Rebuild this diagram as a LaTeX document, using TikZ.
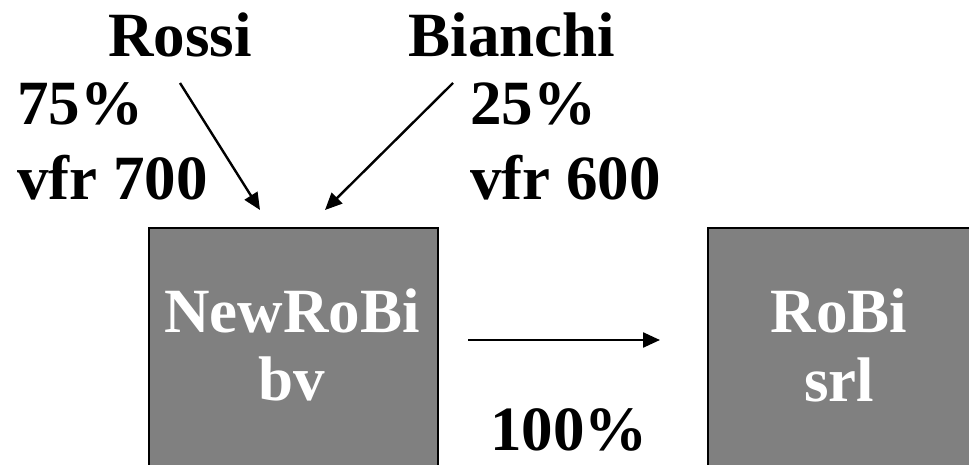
\documentclass[tikz,border=0pt]{standalone}
\usepackage{fontspec}
\setmainfont{Liberation Serif}
\usetikzlibrary{arrows.meta}
\begin{document}
\begin{tikzpicture}[x=1pt,y=-1pt,
  lbl/.style={font=\fontsize{63}{63}\selectfont\bfseries, inner sep=0pt},
  wlbl/.style={lbl, text=white, anchor=base},
  box/.style={draw=black, line width=2pt, fill=boxgray, inner sep=0pt, anchor=north west},
  arr/.style={line width=2.4pt, -{Triangle[length=17pt,width=15pt]}}]
\definecolor{boxgray}{HTML}{808080}
\useasboundingbox (0,0) rectangle (969,465);
\clip (0,0) rectangle (969,465);
\node[box, minimum width=289pt, minimum height=300pt] (nb) at (148,227) {};
\node[box, minimum width=300pt, minimum height=300pt] (rb) at (707,227) {};
\node[wlbl] (t1) at (292,332) {NewRoBi};
\node[wlbl] (t2) at (292,400) {bv};
\node[wlbl] (t3) at (839,332) {RoBi};
\node[wlbl] (t4) at (839,401) {srl};
\node[lbl, anchor=base] (rossi) at (180,57) {Rossi};
\node[lbl, anchor=base] (bianchi) at (512,57) {Bianchi};
\node[lbl, anchor=base west] (p75) at (17,125) {75\%};
\node[lbl, anchor=base west] (v700) at (17,200) {vfr 700};
\node[lbl, anchor=base west] (p25) at (470,125) {25\%};
\node[lbl, anchor=base west] (v600) at (470,200) {vfr 600};
\node[lbl, anchor=base] (p100) at (569,450) {100\%};
\coordinate (r0) at (180,83);
\coordinate (r1) at (260,210);
\coordinate (b0) at (453,83);
\coordinate (b1) at (325,210);
\coordinate (h0) at (468,340);
\coordinate (h1) at (660,340);
\draw[arr] (r0) -- (r1);
\draw[arr] (b0) -- (b1);
\draw[arr] (h0) -- (h1);
\end{tikzpicture}
\end{document}
